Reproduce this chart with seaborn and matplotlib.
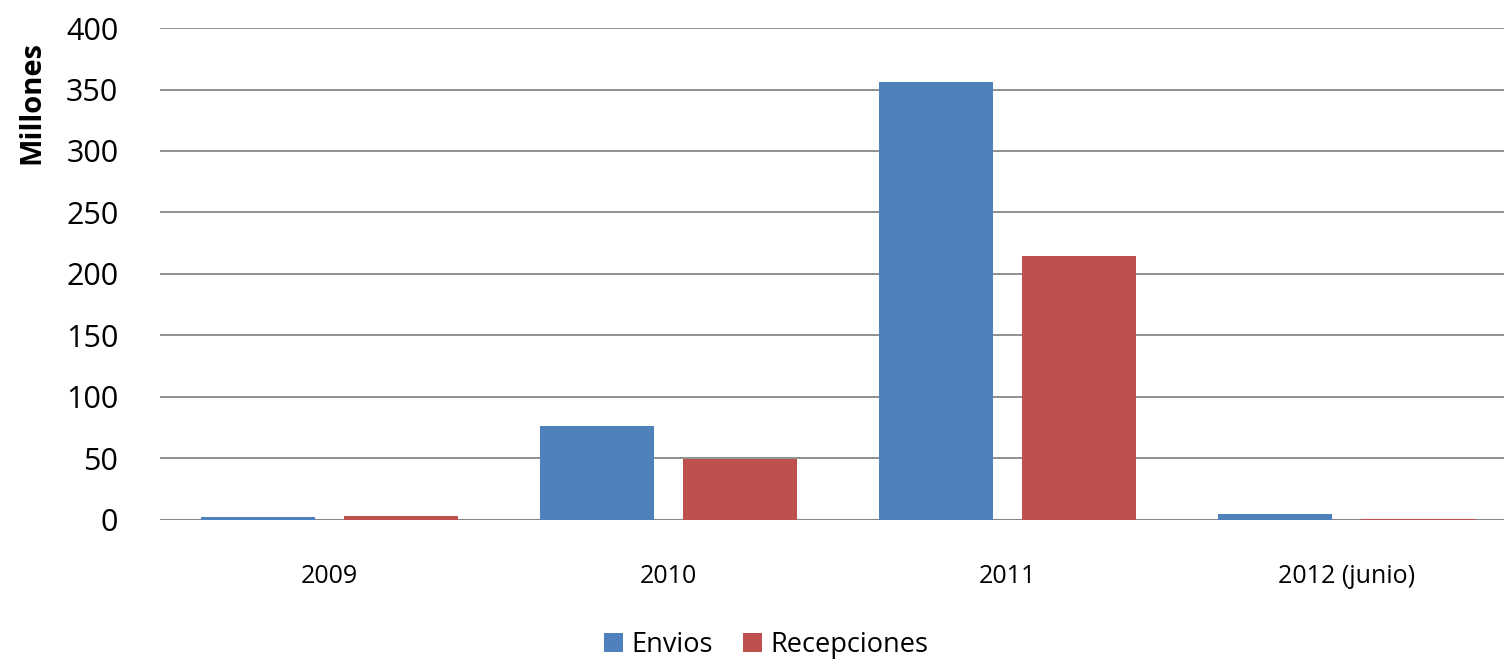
import pandas as pd
import seaborn as sns
import matplotlib.pyplot as plt

years = ["2009", "2010", "2011", "2012 (junio)"]
envios = [2.4, 76.5, 356, 4.8]
recepciones = [3.6, 49.5, 214.5, 0.4]
series = ["Envios", "Recepciones"]

df = pd.DataFrame({
    "year": years * 2,
    "serie": [series[0]] * 4 + [series[1]] * 4,
    "value": envios + recepciones,
})

sns.set_style("white")
plt.rcParams['font.family'] = ['Open Sans', 'DejaVu Sans']
plt.rcParams['text.color'] = 'black'
plt.rcParams['xtick.color'] = 'black'
plt.rcParams['ytick.color'] = 'black'
plt.rcParams['axes.labelcolor'] = 'black'

fig = plt.figure(figsize=(15.04, 6.59), dpi=100)
ax = fig.add_axes([0.1064, 0.211, 0.9016, 0.7465])

sns.barplot(data=df, x="year", y="value", hue="serie", order=years,
            hue_order=series, palette=["#4F81BD", "#C0504D"],
            width=0.84, gap=0.2, saturation=1, linewidth=0, ax=ax, zorder=3)

ax.set_ylim(0, 400)
ax.set_yticks(range(0, 401, 50))
ax.set_xlim(-0.5, 3.5)
ax.yaxis.grid(True, color="#878787", linewidth=1.3, zorder=0)
ax.set_axisbelow(True)
for s in ax.spines.values():
    s.set_visible(False)
ax.axhline(0, color="#878787", linewidth=1.5, zorder=2)

ax.tick_params(axis="y", labelsize=22, length=6, color="#878787", pad=24)
ax.tick_params(axis="x", labelsize=18, length=0, pad=32)
ax.set_xlabel("")
ax.set_ylabel("Millones", fontsize=21, fontweight="bold")
ax.yaxis.set_label_coords(-0.084, 0.848)

ax.legend(loc="center", bbox_to_anchor=(0.447, -0.255), ncol=2, frameon=False,
          fontsize=19.5, handlelength=0.7, handleheight=0.7, handletextpad=0.3,
          columnspacing=1.1)

fig.savefig("out.png", dpi=100)
